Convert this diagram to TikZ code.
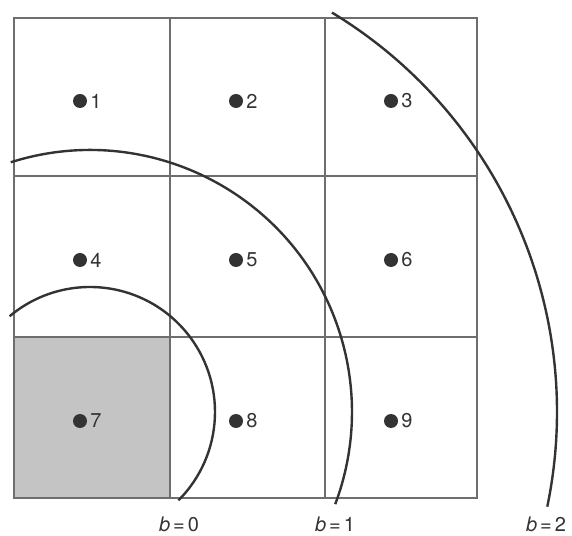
\documentclass[tikz,border=0pt]{standalone}
\usepackage{fontspec}
\setmainfont{TeX Gyre Heros}
\usetikzlibrary{positioning}
\definecolor{gridc}{HTML}{6E6E6E}
\definecolor{arcc}{HTML}{333333}
\definecolor{cellgray}{HTML}{C4C4C4}
\tikzset{
  gridline/.style={draw=gridc, line width=1.4pt},
  outerline/.style={draw=gridc, line width=2pt},
  arcline/.style={draw=arcc, line width=2.4pt},
  dotnode/.style={circle, fill=arcc, minimum size=14pt, inner sep=0pt},
  numlabel/.style={inner sep=0pt, font=\fontsize{20}{22}\selectfont, text=arcc, right=3pt of #1},
  blabel/.style={inner sep=0pt, font=\fontsize{20}{22}\selectfont, text=arcc}
}
\newcommand{\beq}[1]{\textit{b}\kern3pt=\kern3pt#1}
\begin{document}
\begin{tikzpicture}[x=1pt,y=1pt]
\useasboundingbox (0,0) rectangle (572,535);
% shaded cell 7
\fill[cellgray] (14,37) rectangle (170,198);
% inner grid
\draw[gridline] (170,37) -- (170,517);
\draw[gridline] (325,37) -- (325,517);
\draw[gridline] (14,359) -- (477,359);
\draw[gridline] (14,198) -- (477,198);
% outer square
\draw[outerline] (14,37) rectangle (477,517);
% dots and numbers
\node[dotnode] (d1) at (80,434) {};
\node[dotnode] (d2) at (236,434) {};
\node[dotnode] (d3) at (391,434) {};
\node[dotnode] (d4) at (80,275) {};
\node[dotnode] (d5) at (236,275) {};
\node[dotnode] (d6) at (391,275) {};
\node[dotnode] (d7) at (80,114) {};
\node[dotnode] (d8) at (236,114) {};
\node[dotnode] (d9) at (391,114) {};
\node[numlabel=d1] (n1) {1};
\node[numlabel=d2] (n2) {2};
\node[numlabel=d3] (n3) {3};
\node[numlabel=d4] (n4) {4};
\node[numlabel=d5] (n5) {5};
\node[numlabel=d6] (n6) {6};
\node[numlabel=d7] (n7) {7};
\node[numlabel=d8] (n8) {8};
\node[numlabel=d9] (n9) {9};
% arcs
\coordinate (c) at (90,123);
\draw[arcline] (c) ++(130:125) arc[start angle=130, end angle=-45, radius=125];
\draw[arcline] (c) ++(107.6:262) arc[start angle=107.6, end angle=-20.6, radius=262];
\draw[arcline] (c) ++(58.8:467) arc[start angle=58.8, end angle=-11.7, radius=467];
% labels
\node[blabel] (b0) at (179,11) {\beq{0}};
\node[blabel] (b1) at (335,11) {\beq{1}};
\node[blabel] (b2) at (546,11) {\beq{2}};
\end{tikzpicture}
\end{document}
